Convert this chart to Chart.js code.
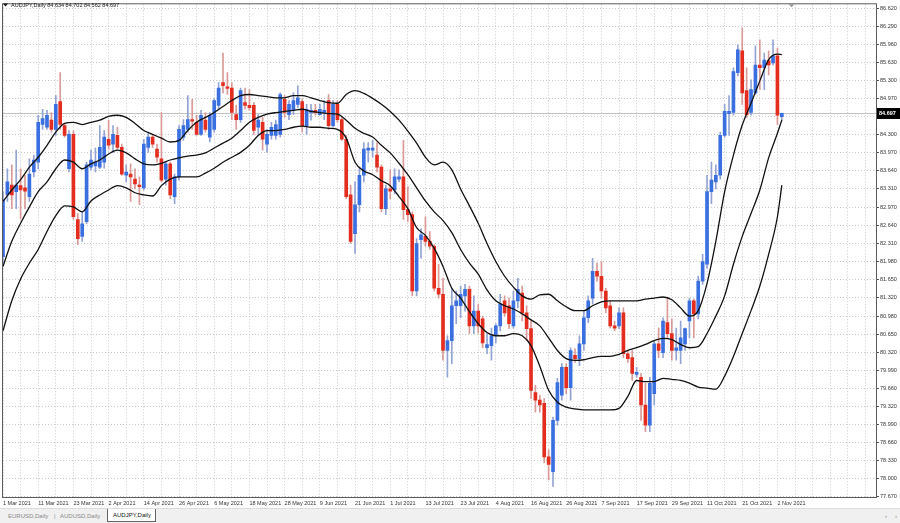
<!DOCTYPE html>
<html>
<head>
<meta charset="utf-8">
<title>AUDJPY,Daily</title>
<script src="https://cdn.jsdelivr.net/npm/chart.js@4.4.1/dist/chart.umd.min.js"></script>
<style>
  html, body { margin: 0; padding: 0; background: #fff; overflow: hidden; }
  #wrap { position: relative; width: 900px; height: 523px; }
  #chart { position: absolute; left: 0; top: 0; }
  .tabs { position: absolute; left: 0; top: 508px; width: 900px; height: 15px; background: #f0f0f0;
          border-top: 1px solid #dcdcdc; box-sizing: border-box;
          font: 6px "Liberation Sans", Arial, sans-serif; color: #8a8a8a; }
  .tabs span { position: absolute; top: 4px; white-space: nowrap; }
  .tabs .active { top: 0; left: 107px; width: 49px; height: 13px; background: #fff; color: #111;
                  border: 1px solid #666; border-top: none; box-sizing: border-box; padding: 3px 0 0 5px; }
</style>
</head>
<body>
<div id="wrap">
  <canvas id="chart" width="900" height="508"></canvas>
  <div class="tabs">
    <span style="left:8px">EURUSD,Daily</span>
    <span style="left:54px">|</span>
    <span style="left:60px">AUDUSD,Daily</span>
    <span class="active">AUDJPY,Daily</span>
    <span style="left:885px">&lsaquo;</span>
    <span style="left:895px">&rsaquo;</span>
  </div>
</div>
<script>
(function () {
  const symbol = "AUDJPY";
  const period = "Daily";

  // daily candles, 1 Mar 2021 .. 3 Nov 2021
  const opens = [
    82.07, 83.20, 83.38, 83.26, 83.37, 83.33, 83.17, 83.62, 83.80, 84.49,
    84.44, 84.57, 84.40, 84.91, 84.47, 83.68, 84.31, 82.75, 82.44, 82.71,
    83.71, 83.73, 83.71, 83.80, 84.22, 84.13, 84.29, 84.07, 83.56, 83.58,
    83.49, 83.38, 83.33, 84.07, 84.26, 84.04, 83.86, 83.49, 83.77, 83.17,
    83.53, 84.26, 84.40, 84.58, 84.53, 84.31, 84.57, 84.26, 84.40, 84.84,
    85.26, 85.18, 85.16, 84.67, 84.58, 84.89, 84.84, 84.84, 84.44, 84.53,
    84.13, 84.29, 84.29, 84.31, 84.95, 84.67, 84.75, 84.86, 84.91, 84.47,
    84.71, 84.75, 84.67, 84.71, 84.93, 84.47, 84.86, 84.58, 84.22, 83.20,
    82.49, 83.02, 83.56, 84.02, 84.02, 83.93, 83.71, 82.95, 83.31, 83.29,
    83.49, 83.53, 82.93, 82.84, 81.44, 82.38, 82.44, 82.35, 82.26, 81.49,
    81.38, 80.35, 80.53, 81.17, 81.17, 81.35, 81.47, 80.80, 81.07, 80.93,
    80.40, 80.44, 80.62, 80.80, 81.26, 81.17, 80.80, 81.26, 81.40, 81.04,
    80.75, 79.58, 79.44, 79.38, 78.40, 78.13, 79.07, 79.53, 80.04, 79.67,
    80.26, 80.20, 80.47, 80.95, 81.31, 81.80, 81.71, 81.44, 81.17, 80.80,
    80.80, 81.04, 80.29, 80.22, 79.91, 79.86, 79.35, 78.98, 79.56, 80.47,
    80.31, 80.86, 80.66, 80.35, 80.35, 80.47, 80.89, 81.26, 81.02, 81.62,
    81.93, 83.26, 83.44, 83.56, 84.29, 84.69, 84.71, 85.44, 85.84, 85.11,
    84.71, 85.07, 85.58, 85.53, 85.66, 85.62, 85.75, 84.634
  ];
  const highs = [
    83.26, 83.68, 83.75, 84.02, 83.68, 83.56, 83.86, 83.93, 84.66, 84.77,
    84.75, 84.71, 85.02, 85.44, 84.51, 84.38, 84.38, 82.86, 82.89, 83.80,
    84.02, 84.06, 84.47, 84.38, 84.57, 84.47, 84.44, 84.13, 83.75, 83.77,
    83.68, 83.53, 84.22, 84.35, 84.31, 84.13, 84.71, 83.80, 83.80, 83.58,
    84.47, 84.58, 85.02, 84.95, 84.66, 84.75, 84.71, 84.71, 84.96, 85.26,
    85.80, 85.44, 85.26, 84.84, 85.16, 85.16, 85.13, 84.89, 84.67, 84.62,
    84.40, 84.53, 84.57, 85.07, 85.02, 84.93, 85.07, 85.20, 84.96, 84.86,
    84.86, 84.86, 84.86, 84.93, 85.04, 84.93, 84.93, 84.62, 84.29, 83.38,
    83.44, 83.71, 84.16, 84.16, 84.20, 84.16, 83.75, 83.38, 83.66, 83.68,
    83.66, 84.20, 83.35, 82.89, 82.40, 82.58, 82.80, 82.53, 82.29, 81.93,
    81.67, 80.62, 81.49, 81.44, 81.53, 81.56, 81.53, 81.35, 81.20, 80.98,
    80.66, 80.76, 80.84, 81.38, 81.35, 81.31, 81.44, 81.67, 81.53, 81.17,
    80.89, 79.71, 79.53, 79.47, 78.53, 79.13, 79.84, 80.11, 80.11, 80.40,
    80.38, 80.62, 81.07, 81.35, 82.04, 81.95, 81.98, 81.49, 81.26, 80.89,
    81.13, 81.13, 80.35, 80.35, 80.04, 79.93, 79.75, 79.86, 80.53, 80.76,
    80.95, 81.31, 80.93, 80.76, 80.89, 80.76, 81.31, 81.29, 81.71, 82.11,
    83.56, 83.80, 83.75, 84.35, 84.86, 85.02, 85.53, 85.95, 86.26, 85.53,
    85.31, 85.93, 86.04, 85.80, 85.84, 86.04, 85.89, 84.702
  ];
  const lows = [
    81.95, 83.08, 82.95, 82.95, 82.76, 82.95, 83.08, 83.53, 83.68, 84.40,
    84.40, 84.35, 84.29, 84.40, 84.26, 83.62, 82.75, 82.29, 82.35, 82.67,
    83.66, 83.62, 83.68, 83.69, 84.04, 83.98, 84.04, 83.56, 83.44, 83.08,
    83.31, 83.02, 83.29, 83.98, 84.07, 83.80, 83.44, 83.38, 83.13, 83.04,
    83.47, 84.20, 84.35, 84.40, 84.29, 84.29, 84.35, 84.17, 84.35, 84.77,
    85.07, 85.04, 84.58, 84.40, 84.53, 84.77, 84.75, 84.31, 84.29, 84.02,
    83.98, 84.22, 84.22, 84.26, 84.62, 84.58, 84.67, 84.80, 84.35, 84.31,
    84.57, 84.66, 84.66, 84.58, 84.40, 84.44, 84.53, 84.20, 83.13, 82.31,
    82.13, 82.89, 83.44, 83.80, 83.89, 83.62, 82.89, 82.84, 83.13, 83.22,
    83.44, 82.75, 82.71, 81.35, 81.35, 82.04, 82.26, 82.20, 81.44, 81.31,
    80.17, 79.86, 80.11, 80.84, 80.95, 81.07, 80.66, 80.66, 80.67, 80.40,
    80.29, 80.17, 80.49, 80.71, 80.98, 80.75, 80.76, 81.13, 80.89, 80.53,
    79.47, 79.22, 79.22, 78.29, 77.98, 77.86, 78.98, 79.44, 79.56, 79.44,
    80.13, 80.07, 80.35, 80.86, 81.20, 81.62, 81.31, 81.04, 80.76, 80.71,
    80.75, 80.22, 80.13, 79.80, 79.86, 79.07, 78.86, 78.86, 79.35, 80.22,
    80.22, 80.56, 80.17, 80.17, 80.11, 80.35, 80.58, 80.58, 80.93, 81.56,
    81.86, 83.04, 83.31, 83.49, 84.26, 84.29, 84.66, 85.38, 84.86, 84.62,
    84.66, 85.04, 85.13, 85.13, 85.40, 85.58, 84.49, 84.562
  ];
  const closes = [
    83.11, 83.44, 83.20, 83.38, 83.29, 83.27, 83.58, 83.84, 84.53, 84.60,
    84.66, 84.40, 84.86, 84.49, 84.29, 84.31, 82.80, 82.40, 82.67, 83.75,
    83.84, 83.80, 84.07, 84.26, 84.11, 84.31, 84.07, 83.58, 83.62, 83.53,
    83.40, 83.35, 84.13, 84.26, 84.13, 83.89, 83.47, 83.77, 83.20, 83.53,
    84.40, 84.47, 84.58, 84.55, 84.31, 84.66, 84.40, 84.66, 84.93, 85.16,
    85.20, 85.15, 84.71, 84.58, 85.11, 84.84, 84.80, 84.38, 84.57, 84.22,
    84.31, 84.44, 84.49, 85.04, 84.71, 84.86, 84.93, 84.98, 84.47, 84.77,
    84.75, 84.71, 84.77, 84.75, 84.47, 84.86, 84.58, 84.22, 83.17, 82.35,
    83.02, 83.56, 84.04, 84.06, 84.06, 83.71, 82.95, 83.31, 83.27, 83.53,
    83.53, 82.93, 82.84, 81.44, 82.31, 82.47, 82.35, 82.26, 81.49, 81.38,
    80.35, 80.53, 81.17, 81.26, 81.38, 81.47, 80.80, 81.07, 80.80, 80.49,
    80.46, 80.62, 80.80, 81.20, 81.04, 80.84, 81.26, 81.47, 81.04, 80.75,
    79.62, 79.44, 79.35, 78.40, 78.26, 79.07, 79.76, 80.04, 79.67, 80.35,
    80.20, 80.47, 80.95, 81.26, 81.80, 81.71, 81.44, 81.13, 80.80, 80.76,
    81.04, 80.29, 80.20, 79.93, 79.95, 79.35, 78.98, 79.75, 80.47, 80.35,
    80.89, 80.66, 80.35, 80.40, 80.58, 80.75, 81.26, 81.02, 81.62, 81.98,
    83.26, 83.47, 83.56, 84.29, 84.73, 84.73, 85.46, 85.86, 85.07, 84.67,
    85.13, 85.58, 85.53, 85.67, 85.58, 85.75, 84.66, 84.697
  ];

  // bands, read every 2nd bar (last sample on the last bar)
  const upperBand = [
    83.08, 83.29, 83.48, 83.71, 83.89, 84.11, 84.35, 84.51, 84.53, 84.49,
    84.53, 84.57, 84.64, 84.66, 84.62, 84.51, 84.38, 84.31, 84.24, 84.17,
    84.20, 84.38, 84.53, 84.62, 84.71, 84.82, 84.93, 85.02, 85.04, 85.02,
    85.00, 84.98, 84.98, 85.02, 85.02, 84.98, 84.93, 84.89, 84.88, 85.04,
    85.11, 85.06, 84.97, 84.86, 84.73, 84.57, 84.37, 84.15, 83.89, 83.75,
    83.80, 83.66, 83.31, 83.00, 82.68, 82.31, 81.98, 81.71, 81.51, 81.35,
    81.29, 81.37, 81.38, 81.26, 81.15, 81.08, 81.08, 81.17, 81.24, 81.26,
    81.26, 81.26, 81.26, 81.29, 81.31, 81.33, 81.28, 81.13, 80.98, 81.08,
    81.58, 82.35, 83.26, 83.93, 84.48, 84.88, 85.29, 85.68, 85.78, 85.77
  ];
  const middleBand = [
    81.89, 82.35, 82.68, 82.98, 83.26, 83.44, 83.68, 83.84, 83.80, 83.68,
    83.77, 83.84, 83.95, 84.02, 83.97, 83.86, 83.77, 83.75, 83.78, 83.84,
    83.88, 83.91, 83.93, 83.97, 84.06, 84.15, 84.24, 84.38, 84.53, 84.62,
    84.68, 84.71, 84.73, 84.75, 84.77, 84.73, 84.71, 84.69, 84.68, 84.57,
    84.42, 84.33, 84.26, 84.11, 83.97, 83.78, 83.57, 83.33, 83.09, 82.89,
    82.73, 82.51, 82.20, 81.95, 81.75, 81.46, 81.26, 81.17, 81.11, 81.02,
    80.91, 80.80, 80.58, 80.35, 80.20, 80.17, 80.18, 80.22, 80.24, 80.24,
    80.28, 80.35, 80.40, 80.46, 80.53, 80.57, 80.55, 80.46, 80.40, 80.42,
    80.66, 80.98, 81.35, 81.93, 82.44, 82.86, 83.29, 83.88, 84.33, 84.57
  ];
  const lowerBand = [
    80.71, 81.26, 81.66, 81.95, 82.20, 82.53, 82.82, 83.00, 82.98, 82.89,
    83.09, 83.20, 83.29, 83.37, 83.33, 83.24, 83.20, 83.18, 83.37, 83.49,
    83.53, 83.53, 83.53, 83.60, 83.69, 83.80, 83.89, 83.98, 84.11, 84.29,
    84.38, 84.38, 84.40, 84.44, 84.46, 84.44, 84.44, 84.42, 84.40, 84.24,
    83.80, 83.64, 83.57, 83.46, 83.37, 83.17, 82.95, 82.60, 82.46, 82.22,
    81.89, 81.49, 81.31, 81.06, 80.84, 80.68, 80.62, 80.62, 80.66, 80.62,
    80.44, 80.06, 79.62, 79.40, 79.31, 79.28, 79.26, 79.26, 79.26, 79.26,
    79.29, 79.51, 79.80, 79.78, 79.78, 79.84, 79.82, 79.80, 79.75, 79.68,
    79.66, 79.64, 79.88, 80.24, 80.66, 81.08, 81.53, 82.11, 82.80, 83.38
  ];

  // time labels every 8 bars, grid every 4
  const dateLabels = [
    "1 Mar 2021", "11 Mar 2021", "23 Mar 2021", "2 Apr 2021", "14 Apr 2021",
    "26 Apr 2021", "6 May 2021", "18 May 2021", "28 May 2021", "9 Jun 2021",
    "21 Jun 2021", "1 Jul 2021", "13 Jul 2021", "23 Jul 2021", "4 Aug 2021",
    "16 Aug 2021", "26 Aug 2021", "7 Sep 2021", "17 Sep 2021", "29 Sep 2021",
    "11 Oct 2021", "21 Oct 2021", "2 Nov 2021"
  ];
  const priceTicks = [
    "86.620", "86.290", "85.960", "85.630", "85.300", "84.970", "84.640",
    "84.300", "83.970", "83.640", "83.310", "82.970", "82.640", "82.310",
    "81.980", "81.650", "81.320", "80.980", "80.650", "80.320", "79.990",
    "79.660", "79.320", "78.990", "78.660", "78.330", "78.000", "77.670"
  ];

  const labelEvery = 8;
  const gridEvery = 4;
  const bandStep = 2;
  const lastBar = closes.length - 1;

  const FONT = '"Liberation Sans", Arial, sans-serif';
  const bull = "#3a6fe0";
  const bear = "#e22d1f";
  const bullWick = "#93a4d4";
  const bearWick = "#d99a98";
  const gridColor = "#c9c9c9";

  const isUp = closes.map((c, i) => c >= opens[i]);
  const bandPoints = (vals) =>
    vals.map((v, k) => ({ x: Math.min(k * bandStep, lastBar), y: v }));

  const bandStyle = {
    type: "line",
    borderColor: "#111",
    borderWidth: 1.3,
    pointRadius: 0,
    cubicInterpolationMode: "monotone",
    order: 0,
  };

  const decor = {
    id: "decor",
    beforeDatasetsDraw(chart) {
      const { ctx, chartArea: a, scales } = chart;
      const py = Math.round(scales.y.getPixelForValue(closes[lastBar])) + 0.5;
      ctx.save();
      ctx.strokeStyle = "#c4c4c4";
      ctx.lineWidth = 1;
      ctx.beginPath();
      ctx.moveTo(a.left, py);
      ctx.lineTo(a.right, py);
      ctx.stroke();
      ctx.restore();
    },
    afterDraw(chart) {
      const { ctx, chartArea: a, scales } = chart;
      ctx.save();
      // frame
      ctx.strokeStyle = "#5c5c5c";
      ctx.lineWidth = 1;
      ctx.strokeRect(a.left - 0.5, a.top - 0.5, a.right - a.left + 1, a.bottom - a.top + 1);

      // chart shift marker
      const sx = Math.round(scales.x.getPixelForValue(lastBar + 2)) + 0.5;
      ctx.fillStyle = "#9a9a9a";
      ctx.beginPath();
      ctx.moveTo(sx - 3, a.top);
      ctx.lineTo(sx + 3, a.top);
      ctx.lineTo(sx, a.top + 3);
      ctx.closePath();
      ctx.fill();

      // current price box
      const last = closes[lastBar];
      const py = Math.round(scales.y.getPixelForValue(last)) + 0.5;
      ctx.fillStyle = "#000";
      ctx.fillRect(a.right + 1, py - 5.5, 23, 11);
      ctx.fillStyle = "#fff";
      ctx.font = "bold 5.5px " + FONT;
      ctx.textBaseline = "middle";
      ctx.textAlign = "left";
      ctx.fillText(last.toFixed(3), a.right + 3, py);

      // header
      ctx.fillStyle = "#111";
      ctx.beginPath();
      ctx.moveTo(3, 3.5);
      ctx.lineTo(8, 3.5);
      ctx.lineTo(5.5, 6.5);
      ctx.closePath();
      ctx.fill();
      ctx.font = "5.5px " + FONT;
      ctx.fillStyle = "#1a1a1a";
      const ohlc = [opens, highs, lows, closes].map((arr) => arr[lastBar].toFixed(3)).join(" ");
      ctx.fillText(`${symbol},${period} ${ohlc}`, 11, 5.5);
      ctx.restore();
    },
  };

  new Chart(document.getElementById("chart"), {
    type: "bar",
    data: {
      datasets: [
        { ...bandStyle, data: bandPoints(upperBand) },
        { ...bandStyle, data: bandPoints(middleBand) },
        { ...bandStyle, data: bandPoints(lowerBand) },
        {
          data: opens.map((o, i) => ({ x: i, y: [o, closes[i]] })),
          backgroundColor: isUp.map((u) => (u ? bull : bear)),
          barThickness: 3,
          minBarLength: 1,
          grouped: false,
          order: 1,
        },
        {
          data: lows.map((l, i) => ({ x: i, y: [l, highs[i]] })),
          backgroundColor: isUp.map((u) => (u ? bullWick : bearWick)),
          barThickness: 1,
          grouped: false,
          order: 2,
        },
      ],
    },
    options: {
      responsive: false,
      animation: false,
      devicePixelRatio: 1,
      layout: { padding: { left: 1, top: 1, right: 0, bottom: 0 } },
      plugins: {
        legend: { display: false },
        tooltip: { enabled: false },
      },
      scales: {
        x: {
          type: "linear",
          min: 0,
          max: 198.4,
          offset: false,
          grid: { color: gridColor, offset: false, drawTicks: false },
          border: { display: false, dash: [1, 2] },
          ticks: {
            autoSkip: false,
            maxRotation: 0,
            align: "start",
            padding: 3,
            color: "#333",
            font: { family: FONT, size: 5.5 },
            callback: (v) => (v % labelEvery === 0 ? dateLabels[v / labelEvery] || "" : ""),
          },
          afterBuildTicks: (scale) => {
            const ticks = [];
            for (let v = 0; v <= scale.max; v += gridEvery) ticks.push({ value: v });
            scale.ticks = ticks;
          },
          afterFit: (scale) => {
            scale.height = 11;
          },
        },
        y: {
          position: "right",
          min: 77.665,
          max: 86.693,
          grid: { color: gridColor, tickLength: 3, tickColor: "#555" },
          border: { display: false, dash: [1, 2] },
          ticks: {
            padding: 1,
            color: "#333",
            font: { family: FONT, size: 5.5 },
            callback: (v, i) => priceTicks[i],
          },
          afterBuildTicks: (scale) => {
            scale.ticks = priceTicks.map((t) => ({ value: parseFloat(t) }));
          },
          afterFit: (scale) => {
            scale.width = 24;
          },
        },
      },
    },
    plugins: [decor],
  });
})();
</script>
</body>
</html>
